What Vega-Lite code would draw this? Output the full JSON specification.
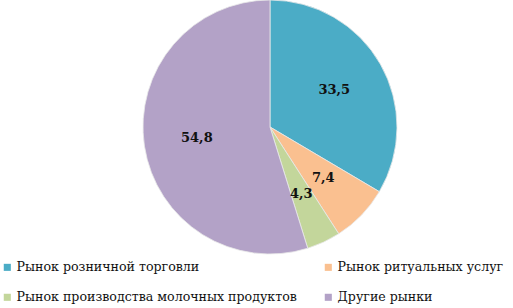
{
  "$schema": "https://vega.github.io/schema/vega-lite/v6.json",
  "width": 486,
  "height": 254,
  "autosize": "none",
  "padding": {"left": 27, "top": 0, "right": 0, "bottom": 54},
  "background": "white",
  "config": {"view": {"stroke": null}},
  "data": {
    "values": [
      {"market": "Рынок розничной торговли", "share": 33.5, "label": "33,5", "ord": 1},
      {"market": "Рынок ритуальных услуг", "share": 7.4, "label": "7,4", "ord": 2},
      {"market": "Рынок производства молочных продуктов", "share": 4.3, "label": "4,3", "ord": 3},
      {"market": "Другие рынки", "share": 54.8, "label": "54,8", "ord": 4}
    ]
  },
  "encoding": {
    "theta": {"field": "share", "type": "quantitative", "stack": true},
    "order": {"field": "ord", "type": "quantitative"}
  },
  "layer": [
    {
      "mark": {"type": "arc", "stroke": "#e8e8e8", "strokeWidth": 0.8},
      "encoding": {
        "color": {
          "field": "market",
          "type": "nominal",
          "sort": ["Рынок розничной торговли", "Рынок ритуальных услуг", "Рынок производства молочных продуктов", "Другие рынки"],
          "scale": {
            "domain": ["Рынок розничной торговли", "Рынок ритуальных услуг", "Рынок производства молочных продуктов", "Другие рынки"],
            "range": ["#4BACC6", "#FAC090", "#C3D69B", "#B3A2C7"]
          },
          "legend": {
            "title": null,
            "orient": "none",
            "direction": "horizontal",
            "legendX": -26,
            "legendY": 261,
            "columns": 2,
            "columnPadding": 25,
            "rowPadding": 17,
            "symbolType": "square",
            "symbolSize": 50,
            "symbolStrokeWidth": 0,
            "symbolOffset": 0,
            "labelFont": "DejaVu Serif",
            "labelFontSize": 12.6,
            "labelColor": "#111",
            "labelLimit": 400,
            "labelOffset": 3
          }
        }
      }
    },
    {
      "mark": {"type": "text", "radius": 74, "font": "DejaVu Serif", "fontSize": 13, "fontWeight": "bold", "color": "#111"},
      "encoding": {
        "text": {"field": "label", "type": "nominal"}
      }
    }
  ]
}
